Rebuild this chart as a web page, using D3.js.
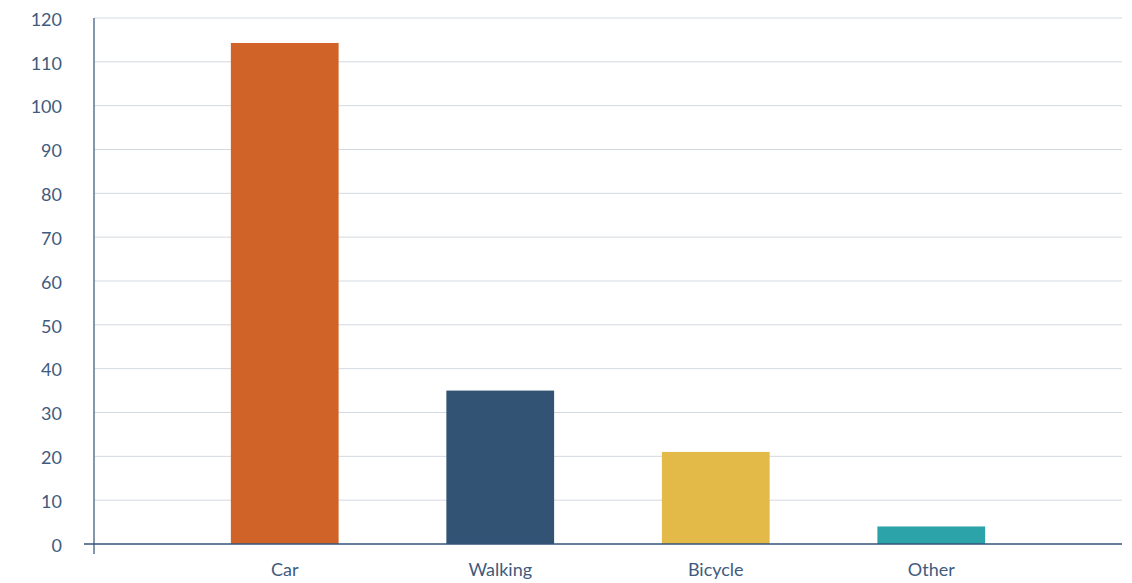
<!DOCTYPE html>
<html><head><meta charset="utf-8">
<script src="https://cdn.jsdelivr.net/npm/d3@7"></script>
<style>body{margin:0;background:#fff}svg text{font-family:Lato,"Open Sans",sans-serif}</style>
</head><body><svg id="c" width="1132" height="583"></svg>
<script>
const categories = ["Car","Walking","Bicycle","Other"];
const values = [114.3, 35, 21, 4];
const colors = ["#D06428","#325374","#E3B948","#2BA3A8"];
const yTicks = [0,10,20,30,40,50,60,70,80,90,100,110,120];

const svg = d3.select("#c");
const L=94, R=1122, T=18, B=544;
const x = d3.scaleBand().domain(categories).range([L,R]).paddingInner(0.5).paddingOuter(0.635);
const y = d3.scaleLinear().domain([0,120]).range([B,T]);
const textCol = "#3f5b7d";

// gridlines
svg.append("g").selectAll("line").data(yTicks.filter(d=>d>0)).join("line")
  .attr("x1",L).attr("x2",R).attr("y1",d=>y(d)).attr("y2",d=>y(d))
  .attr("stroke","#d3d9e1").attr("stroke-width",1);

// bars
svg.append("g").selectAll("rect").data(categories).join("rect")
  .attr("x",d=>x(d)).attr("width",x.bandwidth())
  .attr("y",(d,i)=>y(values[i])).attr("height",(d,i)=>B-y(values[i]))
  .attr("fill",(d,i)=>colors[i]);

// y axis
const ya = svg.append("g").attr("transform",`translate(${L},0)`)
  .call(d3.axisLeft(y).tickValues(yTicks).tickSize(0).tickPadding(32));
ya.select(".domain").remove();
ya.selectAll("text").attr("fill",textCol).style("font-size","18px").attr("dy","0.4em");
svg.append("line").attr("x1",L).attr("x2",L).attr("y1",T).attr("y2",B+10)
  .attr("stroke","#5d7591").attr("stroke-width",1.5);

// x axis
const xa = svg.append("g").attr("transform",`translate(0,${B})`)
  .call(d3.axisBottom(x).tickSize(0).tickPadding(19));
xa.select(".domain").remove();
xa.selectAll("text").attr("fill",textCol).style("font-size","18px");
svg.append("line").attr("x1",L-10).attr("x2",R).attr("y1",B).attr("y2",B)
  .attr("stroke","#34557a").attr("stroke-width",1.5);
</script></body></html>
